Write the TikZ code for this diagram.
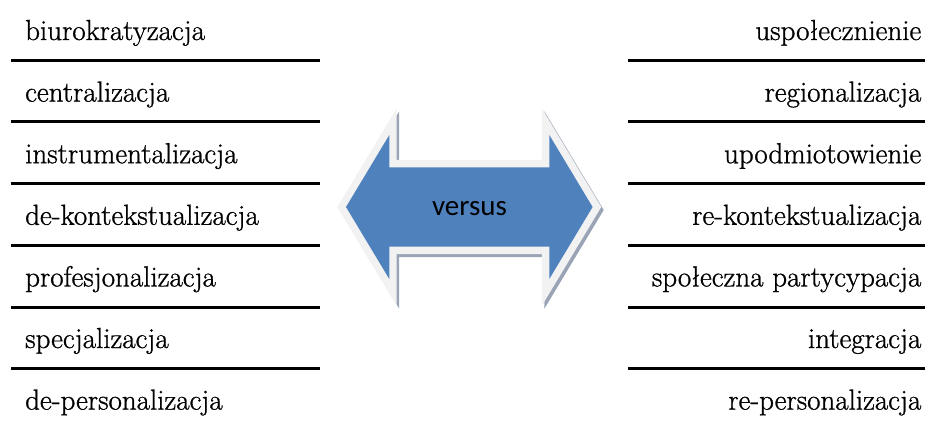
\documentclass[tikz,border=0pt]{standalone}
\usepackage{fontspec}
\newfontfamily\serifface{Latin Modern Roman}[FakeBold=0.9]
\newfontfamily\calibfont{Carlito}
\definecolor{arrowblue}{HTML}{4F81BD}
\definecolor{bevelgray}{HTML}{F2F2F2}
\definecolor{shadegray}{HTML}{9AA4B6}
\tikzset{
  lefttxt/.style={anchor=base west, inner sep=0pt, font=\serifface\fontsize{29}{35}\selectfont},
  righttxt/.style={anchor=base east, inner sep=0pt, font=\serifface\fontsize{29}{35}\selectfont},
  rule/.style={line width=3pt, black},
  arrowshape/.style={line join=miter, miter limit=10},
}
\begin{document}
\begin{tikzpicture}[x=1pt,y=-1pt]
\useasboundingbox (0,0) rectangle (925,424);
% left column
\node[lefttxt] (l1) at (25,40) {biurokratyzacja};
\node[lefttxt] (l2) at (25,101.6) {centralizacja};
\node[lefttxt] (l3) at (25,163.2) {instrumentalizacja};
\node[lefttxt] (l4) at (25,224.8) {de-kontekstualizacja};
\node[lefttxt] (l5) at (25,286.4) {profesjonalizacja};
\node[lefttxt] (l6) at (25,348) {specjalizacja};
\node[lefttxt] (l7) at (25,409.6) {de-personalizacja};
% right column
\node[righttxt] (r1) at (921.5,40) {uspołecznienie};
\node[righttxt] (r2) at (921.5,101.6) {regionalizacja};
\node[righttxt] (r3) at (921.5,163.2) {upodmiotowienie};
\node[righttxt] (r4) at (921.5,224.8) {re-kontekstualizacja};
\node[righttxt] (r5) at (921.5,286.4) {społeczna partycypacja};
\node[righttxt] (r6) at (921.5,348) {integracja};
\node[righttxt] (r7) at (921.5,409.6) {re-personalizacja};
% rules
\foreach \k in {0,...,5}{
  \draw[rule] (11,{60+61.75*\k}) -- (320,{60+61.75*\k});
  \draw[rule] (628,{60+61.75*\k}) -- (925,{60+61.75*\k});
}
% double arrow
\def\arrowpath{(346,207) -- (389.3,135) -- (389.3,167.3) -- (549.3,167.3) -- (549.3,135) -- (592.6,207) -- (549.3,279) -- (549.3,246.7) -- (389.3,246.7) -- (389.3,279) -- cycle}
\begin{scope}[shift={(2.5,3)}]
  \draw[arrowshape, line width=14.8pt, draw=shadegray, fill=shadegray] \arrowpath;
\end{scope}
\draw[arrowshape, line width=14.8pt, draw=bevelgray, fill=bevelgray] \arrowpath;
\fill[arrowblue] \arrowpath;
\node[anchor=base, inner sep=0pt, font=\calibfont\fontsize{29}{35}\selectfont] (vs) at (469.5,215) {versus};
\end{tikzpicture}
\end{document}
